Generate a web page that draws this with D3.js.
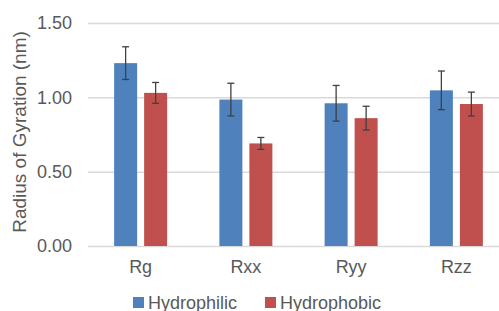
<!DOCTYPE html>
<head>
  <meta charset="utf-8">
  <style>
    body { margin: 0; background: #fff; }
    svg text { font-family: "Liberation Sans", Arial, sans-serif; fill: #595959; }
    svg .grid line { stroke: #D9D9D9; stroke-width: 1.5px; }
    svg .domain { display: none; }
  </style>
</head>
<body>
<script src="https://d3js.org/d3.v7.min.js"></script>
<script>
  var categories = ["Rg", "Rxx", "Ryy", "Rzz"];
  var seriesNames = ["Hydrophilic", "Hydrophobic"];
  var hydrophilic = [1.23, 0.985, 0.96, 1.047];
  var hydrophilicErr = [0.11, 0.11, 0.12, 0.13];
  var hydrophobic = [1.03, 0.69, 0.86, 0.955];
  var hydrophobicErr = [0.07, 0.04, 0.08, 0.08];
  var yTicks = [0, 0.5, 1.0, 1.5];
  var colors = ["#4F81BD", "#C0504D"];

  var width = 499, height = 311;
  var plotLeft = 88, plotRight = 509, plotTop = 23, plotBottom = 246;

  var svg = d3.select("body").append("svg")
      .attr("width", width)
      .attr("height", height);

  var x = d3.scaleBand().domain(categories).range([plotLeft, plotRight]);
  var y = d3.scaleLinear().domain([0, 1.5]).range([plotBottom, plotTop]);

  // gridlines + y tick labels
  var yAxis = d3.axisLeft(y)
      .tickValues(yTicks)
      .tickFormat(d3.format(".2f"))
      .tickSize(-(width - plotLeft))
      .tickPadding(16);

  svg.append("g")
      .classed("grid", true)
      .attr("transform", "translate(" + plotLeft + ",0)")
      .call(yAxis)
    .selectAll("text")
      .style("font-size", "18px");

  // x labels
  var xAxis = d3.axisBottom(x).tickSize(0).tickPadding(14);
  svg.append("g")
      .attr("transform", "translate(0," + plotBottom + ")")
      .call(xAxis)
    .selectAll("text")
      .style("font-size", "18px");

  // y title
  svg.append("text")
      .attr("transform", "translate(26,132) rotate(-90)")
      .attr("text-anchor", "middle")
      .style("font-size", "19px")
      .text("Radius of Gyration (nm)");

  var barW = 23, gap = 7;
  var sets = [
    { vals: hydrophilic, errs: hydrophilicErr },
    { vals: hydrophobic, errs: hydrophobicErr }
  ];

  sets.forEach(function (s, si) {
    var off = si === 0 ? -(gap / 2 + barW) : gap / 2;
    var g = svg.append("g");
    categories.forEach(function (c, i) {
      var bx = x(c) + x.bandwidth() / 2 + off;
      g.append("rect")
          .attr("x", bx)
          .attr("y", y(s.vals[i]))
          .attr("width", barW)
          .attr("height", y(0) - y(s.vals[i]))
          .style("fill", colors[si]);
      var mx = bx + barW / 2;
      var hi = y(s.vals[i] + s.errs[i]), lo = y(s.vals[i] - s.errs[i]);
      g.append("line").attr("x1", mx).attr("x2", mx).attr("y1", hi).attr("y2", lo)
          .style("stroke", "#404040").style("stroke-width", 1.3);
      [hi, lo].forEach(function (yy) {
        g.append("line").attr("x1", mx - 3.5).attr("x2", mx + 3.5).attr("y1", yy).attr("y2", yy)
            .style("stroke", "#404040").style("stroke-width", 1.3);
      });
    });
  });

  // legend
  var legendX = [133, 265];
  seriesNames.forEach(function (n, i) {
    svg.append("rect")
        .attr("x", legendX[i]).attr("y", 297)
        .attr("width", 11).attr("height", 11)
        .style("fill", colors[i]);
    svg.append("text")
        .attr("x", legendX[i] + 15).attr("y", 309)
        .style("font-size", "18px")
        .text(n);
  });
</script>
</body>
</html>
